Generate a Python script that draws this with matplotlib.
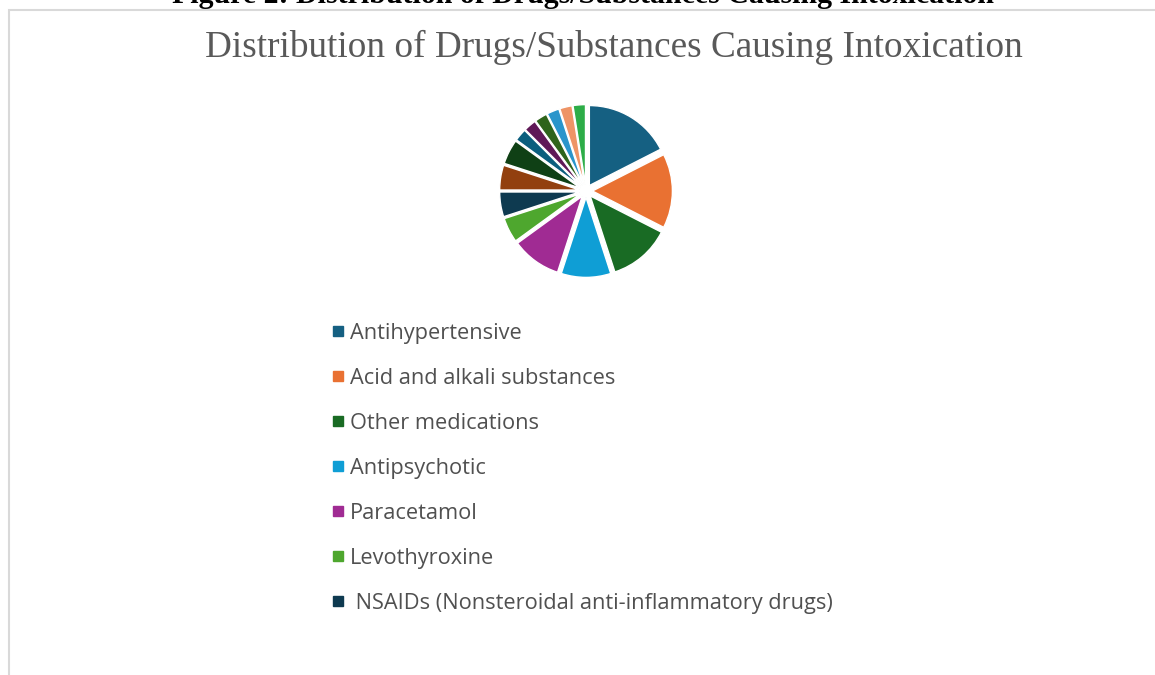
import matplotlib
matplotlib.use("Agg")
import matplotlib.pyplot as plt
from matplotlib.patches import Rectangle
from matplotlib.lines import Line2D

# ---- data ----
categories = [
    "Antihypertensive",
    "Acid and alkali substances",
    "Other medications",
    "Antipsychotic",
    "Paracetamol",
    "Levothyroxine",
    " NSAIDs (Nonsteroidal anti-inflammatory drugs)",
    "Category 8", "Category 9", "Category 10", "Category 11",
    "Category 12", "Category 13", "Category 14", "Category 15",
]
counts = [7, 6, 5, 4, 4, 2, 2, 2, 2, 1, 1, 1, 1, 1, 1]
colors = [
    "#156082", "#E97132", "#196B24", "#0F9ED5", "#A02B93", "#4EA72E",
    "#0E3A50", "#92400F", "#0F4015", "#0B5E7E", "#5F1957", "#2E641B",
    "#2A95CB", "#EE9466", "#2DAD48",
]
legend_count = 7

W, H = 1155, 675
fig = plt.figure(figsize=(W / 100, H / 100), dpi=100)
fig.patch.set_facecolor("white")

# chart border (light gray)
fig.patches.append(Rectangle((8.5 / W, -0.1), 2.0, (H - 9.5) / H + 0.1,
                             transform=fig.transFigure, fill=False,
                             edgecolor="#D9D9D9", linewidth=1.5))

# cut-off document caption above the chart
fig.text(583 / W, 1 - 3 / H, "Figure 2: Distribution of Drugs/Substances Causing Intoxication",
         ha="center", va="baseline", fontsize=21.5, fontweight="bold",
         family="Liberation Serif", color="black")

# chart title
fig.text(614 / W, 1 - 47 / H, "Distribution of Drugs/Substances Causing Intoxication",
         ha="center", va="center", fontsize=26.8, family="Liberation Serif",
         color="#595959")

# pie
cx, cy, r = 586, 191, 80
lim = 1.25
aw = 2 * lim * r
ax = fig.add_axes([(cx - aw / 2) / W, (H - cy - aw / 2) / H, aw / W, aw / H])
wedges, _ = ax.pie(counts, colors=colors, startangle=90, counterclock=False,
                   explode=[0.08] * len(counts),
                   wedgeprops=dict(edgecolor="white", linewidth=1.0))
ax.set_xlim(-lim, lim)
ax.set_ylim(-lim, lim)
ax.set_aspect("equal")
ax.axis("off")

# legend (only first entries visible)
fs = 15.7
handles = [Line2D([], [], marker="s", linestyle="", markersize=6.5,
                  markerfacecolor=colors[i], markeredgecolor=colors[i])
           for i in range(legend_count)]
leg = fig.legend(handles, categories[:legend_count], loc="upper left",
                 bbox_to_anchor=(311.5 / W, 1 - 303 / H), frameon=False,
                 labelcolor="#505050", handlelength=0.6,
                 handletextpad=0.27, labelspacing=1.1,
                 prop={"family": "Open Sans", "size": fs})

fig.savefig("out.png", dpi=100, facecolor="white")
